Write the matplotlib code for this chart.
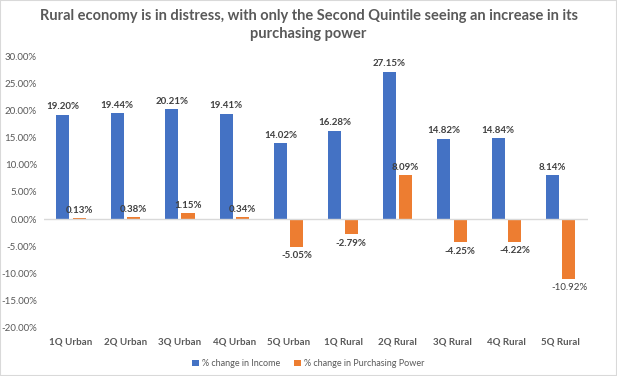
import numpy as np
import matplotlib
matplotlib.use("Agg")
import matplotlib.pyplot as plt
from matplotlib.patches import Rectangle

plt.rcParams['font.family'] = ['Lato', 'DejaVu Sans']

categories = ["1Q Urban", "2Q Urban", "3Q Urban", "4Q Urban", "5Q Urban",
              "1Q Rural", "2Q Rural", "3Q Rural", "4Q Rural", "5Q Rural"]
income = [19.20, 19.44, 20.21, 19.41, 14.02, 16.28, 27.15, 14.82, 14.84, 8.14]
purchasing = [0.13, 0.38, 1.15, 0.34, -5.05, -2.79, 8.09, -4.25, -4.22, -10.92]
yticks = [30, 25, 20, 15, 10, 5, 0, -5, -10, -15, -20]

blue = "#4472C4"
orange = "#ED7D31"
label_col = "#404040"
tick_col = "#595959"

fig = plt.figure(figsize=(6.17, 3.76), dpi=100)
ax = fig.add_axes([0.071, 0.128, 0.882, 0.723])

x = np.arange(len(categories))
w = 0.24
ax.bar(x - 0.15, income, w, color=blue, label="% change in Income")
ax.bar(x + 0.15, purchasing, w, color=orange, label="% change in Purchasing Power")

for xi, v in zip(x, income):
    ax.text(xi - 0.15, v + 0.6, f"{v:.2f}%", ha="center", va="bottom",
            fontsize=7, fontweight="bold", color=label_col)
for xi, v in zip(x, purchasing):
    if v >= 0:
        ax.text(xi + 0.15, v + 0.6, f"{v:.2f}%", ha="center", va="bottom",
                fontsize=7, fontweight="bold", color=label_col)
    else:
        ax.text(xi + 0.15, v - 0.8, f"{v:.2f}%", ha="center", va="top",
                fontsize=7, fontweight="bold" if v > -10 else "normal", color=label_col)

ax.set_ylim(-20, 30)
ax.set_xlim(-0.5, len(categories) - 0.5)
ax.set_yticks(yticks)
ax.set_yticklabels([f"{t:.2f}%" for t in yticks], fontsize=7, color=tick_col)
ax.tick_params(axis="y", length=0, pad=5)
ax.set_xticks(x)
ax.set_xticklabels(categories, fontsize=7, color=tick_col, fontweight="bold")
ax.tick_params(axis="x", length=0, pad=7)
for s in ax.spines.values():
    s.set_visible(False)
ax.axhline(0, color="#D9D9D9", lw=1)

fig.suptitle("Rural economy is in distress, with only the Second Quintile seeing an increase in its\npurchasing power",
             y=0.975, fontsize=10.5, fontweight="bold", color=tick_col, linespacing=1.3)

fig.legend(loc="lower center", bbox_to_anchor=(0.5, 0.0), ncol=2, frameon=False,
           fontsize=6.5, handlelength=0.7, handleheight=0.7, columnspacing=1.5,
           handletextpad=0.4, labelcolor=tick_col)

fig.patches.append(Rectangle((0, 0), 1, 1, transform=fig.transFigure, fill=False,
                             edgecolor="#D9D9D9", lw=1.5))

fig.savefig("out.png", dpi=100)
